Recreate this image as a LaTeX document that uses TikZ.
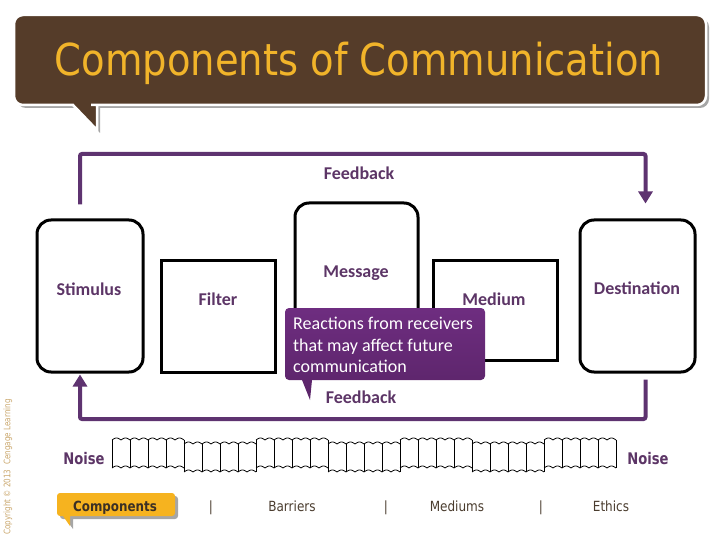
\documentclass[tikz,border=0pt]{standalone}
\usepackage{fontspec}
\setmainfont{Carlito}
\newfontfamily\tahoma{DejaVu Sans}
\usetikzlibrary{arrows.meta,shadows}
\definecolor{bubblebrown}{HTML}{553C29}
\definecolor{titlegold}{HTML}{F1B42A}
\definecolor{fbpurple}{HTML}{5E3370}
\definecolor{labelpurple}{HTML}{5C3566}
\definecolor{calltop}{HTML}{6E2D80}
\definecolor{callbot}{HTML}{5A2468}
\definecolor{btngold}{HTML}{F6B31F}
\definecolor{rowbrown}{HTML}{4A3C2E}
\definecolor{copytan}{HTML}{C9A66B}

\begin{document}
\begin{tikzpicture}[x=1pt,y=-1pt,line cap=round,
  stage/.style={draw=black,line width=3pt,rounded corners=14pt,inner sep=0pt},
  gate/.style={draw=black,line width=3pt,inner sep=0pt},
  lbl/.style={anchor=base,font=\bfseries\fontsize{18}{20}\selectfont,text=labelpurple},
  fb/.style={draw=fbpurple,line width=4pt,rounded corners=2pt,line cap=butt,
    -{Triangle[width=14pt,length=12pt]}},
  coil/.style={draw=black,line width=0.8pt,line cap=butt},
  noiselbl/.style={anchor=base,font=\tahoma\bfseries\fontsize{16}{18}\selectfont,text=labelpurple,xscale=0.82},
  rowlbl/.style={anchor=base,font=\tahoma\fontsize{14}{16}\selectfont,text=rowbrown,xscale=0.86}]
\useasboundingbox (0,0) rectangle (720,540);

% title bubble
\path[fill=bubblebrown,draw=white,line width=2.5pt,
  drop shadow={shadow xshift=3pt,shadow yshift=-3pt,fill=gray!70,opacity=1}]
  (14,60) [rounded corners=9pt] -- (14,15) -- (706,15) -- (706,105) -- (100,105)
  [sharp corners] -- (97,105) -- (97,130) -- (73,105) [rounded corners=9pt] -- (14,105) -- cycle;
\node[anchor=base,font=\tahoma\fontsize{44}{46}\selectfont,text=titlegold,xscale=0.875]
  (title) at (359,76) {Components of Communication};

% stages
\node[stage,minimum width=106pt,minimum height=152pt] (stim) at (90,296) {};
\node[gate,minimum width=114pt,minimum height=112pt] (filt) at (218,316) {};
\node[stage,minimum width=123pt,minimum height=167pt] (msg) at (356.5,286.5) {};
\node[gate,minimum width=124pt,minimum height=100pt] (med) at (495,310) {};
\node[stage,minimum width=115pt,minimum height=152pt] (dest) at (637.5,296) {};

\node[lbl] (stimlbl) at (89,295) {Stimulus};
\node[lbl] (filtlbl) at (218,305) {Filter};
\node[lbl] (msglbl) at (356,277) {Message};
\node[lbl] (medlbl) at (494,305) {Medium};
\node[lbl] (destlbl) at (637,294) {Destination};

% feedback loops
\coordinate (topA) at ([xshift=-10pt,yshift=14pt]stim.north);
\coordinate (topB) at ([xshift=8pt,yshift=15pt]dest.north);
\coordinate (botA) at ([xshift=8pt,yshift=-6pt]dest.south);
\coordinate (botB) at ([xshift=-10pt,yshift=-1pt]stim.south);
\draw[fb] (topA) -- (topA |- 0,154) -- (topB |- 0,154) -- (topB);
\draw[fb] (botA) -- (botA |- 0,419) -- (botB |- 0,419) -- (botB);
\node[lbl] (fbtop) at (359,180) {Feedback};
\node[lbl] (fbbot) at (361,403) {Feedback};

% callout
\path[top color=calltop,bottom color=callbot]
  (285,340) [rounded corners=4pt] -- (285,308) -- (485,308) -- (485,380) -- (314,380)
  [sharp corners] -- (312,380) -- (310,400) -- (302,380) [rounded corners=4pt] -- (285,380) -- cycle;
\node[anchor=north west,inner sep=0pt,align=left,text=white,
  font=\fontsize{18}{21.5}\selectfont] (callout) at (293,317)
  {Reactions from receivers\\that may affect future\\communication};

% noise coil
\foreach \i [evaluate=\i as \xa using {112+72*\i},
             evaluate=\i as \yt using {440+4*mod(\i,2)}] in {0,...,6} {
  \draw[coil] plot[domain=0:72,samples=97] ({\xa+\x},{\yt-2*abs(sin(20*\x))});
  \draw[coil] plot[domain=0:72,samples=97] ({\xa+\x},{\yt+28-2*abs(sin(20*\x))});
  \foreach \k in {0,...,4}
    \draw[coil] ({\xa+18*\k},{\yt-0.5}) -- ({\xa+18*\k},{\yt+28});
}
\node[noiselbl] (noiseL) at (84,464) {Noise};
\node[noiselbl] (noiseR) at (648,464) {Noise};

% bottom row
\path[fill=btngold,
  drop shadow={shadow xshift=3pt,shadow yshift=-3pt,fill=gray!70,opacity=1}]
  (57,505) [rounded corners=3pt] -- (57,493) -- (175,493) -- (175,516) -- (72,516)
  [sharp corners] -- (70,516) -- (70,526) -- (63,516) [rounded corners=3pt] -- (57,516) -- cycle;
\node[anchor=base,font=\tahoma\bfseries\fontsize{14}{16}\selectfont,text=rowbrown!80!black,xscale=0.85]
  (comp) at (115,511) {Components};
\node[rowlbl] (sep1) at (211,511) {|};
\node[rowlbl] (barr) at (292,511) {Barriers};
\node[rowlbl] (sep2) at (386,511) {|};
\node[rowlbl] (mediums) at (457,511) {Mediums};
\node[rowlbl] (sep3) at (541,511) {|};
\node[rowlbl] (ethics) at (611,511) {Ethics};

\node[rotate=90,font=\tahoma\fontsize{9}{10}\selectfont,text=copytan]
  (copy) at (8,467) {\scalebox{0.8}[1]{Copyright © 2013~ Cengage Learning}};
\end{tikzpicture}
\end{document}
